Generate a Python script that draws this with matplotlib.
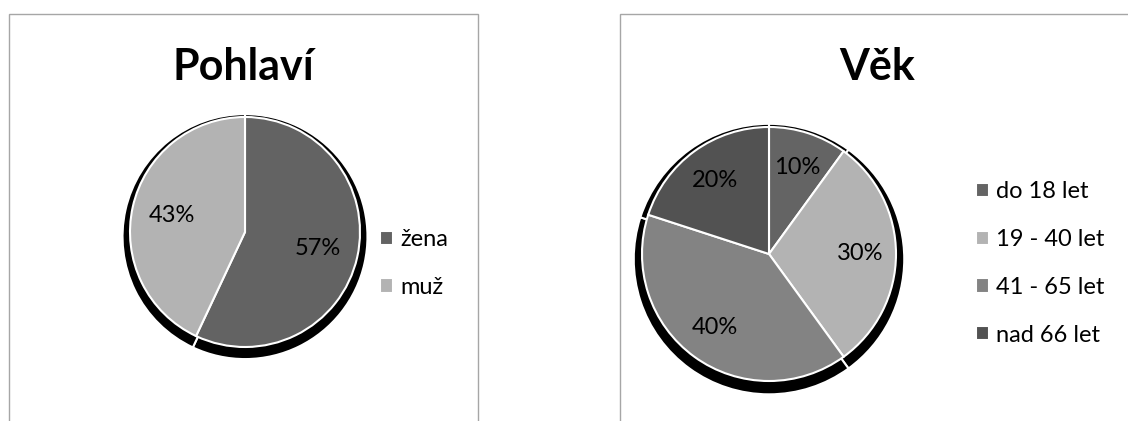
import matplotlib.pyplot as plt
from matplotlib.patches import Rectangle

plt.rcParams['font.family'] = ['Lato', 'DejaVu Sans']

# data
sex_labels = ['žena', 'muž']
sex_values = [57, 43]
sex_colors = ['#636363', '#b3b3b3']

age_labels = ['do 18 let', '19 - 40 let', '41 - 65 let', 'nad 66 let']
age_values = [10, 30, 40, 20]
age_colors = ['#646464', '#b3b3b3', '#838383', '#525252']

W, H = 1128, 421
fig = plt.figure(figsize=(W / 100, H / 100), dpi=100)
fig.patch.set_facecolor('white')

# panel borders (bottom runs off the picture)
fig.add_artist(Rectangle((9 / W, -0.2), (478 - 9) / W, 1.2 - 14 / H,
                         transform=fig.transFigure, fill=False,
                         edgecolor='#a6a6a6', linewidth=1))
fig.add_artist(Rectangle((620 / W, -0.2), 0.6, 1.2 - 14 / H,
                         transform=fig.transFigure, fill=False,
                         edgecolor='#a6a6a6', linewidth=1))


def pie_axes(cx, cy, r, m=1.3):
    # axes in pixel coords so that radius 1 == r px
    ax = fig.add_axes([(cx - m * r) / W, 1 - (cy + m * r) / H,
                       2 * m * r / W, 2 * m * r / H])
    ax.set_xlim(-m, m)
    ax.set_ylim(-m, m)
    ax.set_aspect('equal')
    ax.axis('off')
    return ax


def draw_pie(ax, values, colors, pctdist):
    # black drop shadow first
    ax.pie(values, colors=['black'] * len(values), startangle=90,
           counterclock=False, radius=1.065, center=(0, -0.04),
           wedgeprops=dict(edgecolor='white', linewidth=1.5))
    wedges, _, autotexts = ax.pie(values, colors=colors, startangle=90,
                                  counterclock=False, autopct='%d%%',
                                  pctdistance=pctdist,
                                  wedgeprops=dict(edgecolor='white', linewidth=1.5),
                                  textprops=dict(fontsize=17, color='black'))
    ax.set_xlim(-1.3, 1.3)
    ax.set_ylim(-1.3, 1.3)
    return wedges


leg_kw = dict(loc='center left', bbox_transform=fig.transFigure,
              frameon=False, fontsize=17, handlelength=0.55, handleheight=0.55,
              handletextpad=0.3, labelspacing=1.13, borderpad=0, borderaxespad=0)

ax1 = pie_axes(245, 232, 115)
w1 = draw_pie(ax1, sex_values, sex_colors, 0.65)
fig.text(243 / W, 1 - 80 / H, 'Pohlaví', ha='center', va='baseline',
         fontsize=31, fontweight='bold')
fig.legend(w1, sex_labels, bbox_to_anchor=(380 / W, 1 - 263.5 / H), **leg_kw)

ax2 = pie_axes(769, 254, 127)
w2 = draw_pie(ax2, age_values, age_colors, 0.72)
fig.text(877 / W, 1 - 80 / H, 'Věk', ha='center', va='baseline',
         fontsize=31, fontweight='bold')
fig.legend(w2, age_labels, bbox_to_anchor=(976 / W, 1 - 263.5 / H), **leg_kw)

fig.savefig('out.png', dpi=100)
